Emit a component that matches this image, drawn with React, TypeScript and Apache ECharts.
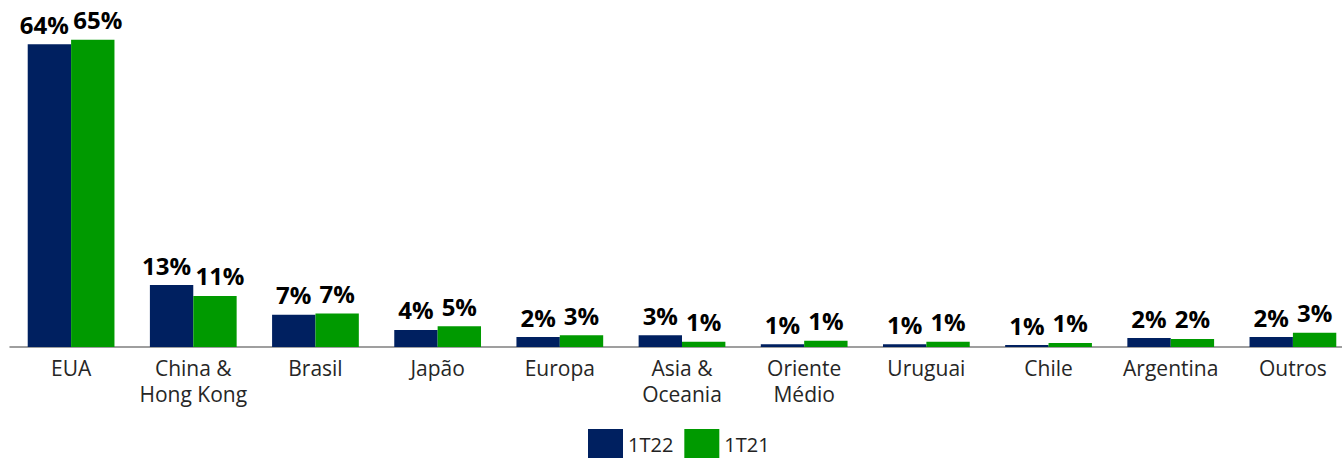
import React, { useEffect, useRef } from "react";
import * as echarts from "echarts";

const categories = ["EUA", "China &\nHong Kong", "Brasil", "Japão", "Europa", "Asia &\nOceania", "Oriente\nMédio", "Uruguai", "Chile", "Argentina", "Outros"];
const values1T22 = [64, 13.1, 6.8, 3.6, 2.1, 2.5, 0.6, 0.6, 0.4, 1.9, 2.1];
const values1T21 = [65, 10.8, 7.1, 4.4, 2.5, 1.1, 1.3, 1.1, 0.85, 1.7, 3.0];
const labels1T22 = ["64%", "13%", "7%", "4%", "2%", "3%", "1%", "1%", "1%", "2%", "2%"];
const labels1T21 = ["65%", "11%", "7%", "5%", "3%", "1%", "1%", "1%", "1%", "2%", "3%"];

const FONT = "'Open Sans', Lato, sans-serif";

export default function App() {
  const ref = useRef<HTMLDivElement>(null);
  useEffect(() => {
    if (!ref.current) return;
    const chart = echarts.init(ref.current, undefined, { renderer: "svg" });
    const mkLabel = (labels: string[]) => ({
      show: true,
      position: "top",
      distance: 8,
      color: "#000",
      fontWeight: "bold",
      fontSize: 24,
      fontFamily: FONT,
      formatter: (p: any) => labels[p.dataIndex],
    });
    const mkData = (vals: number[], labels: string[], shift: number) =>
      vals.map((v, i) => ({
        value: v,
        label: { offset: [labels[i].length > 2 ? shift : 0, 0] },
      }));
    chart.setOption({
      animation: false,
      grid: { left: 10, width: 1344, top: 16, bottom: 111, containLabel: false },
      legend: {
        top: 424,
        left: 583,
        padding: 5,
        itemWidth: 35,
        itemHeight: 30,
        itemGap: 11,
        icon: "rect",
        textStyle: { fontSize: 20, lineHeight: 20, color: "#222", fontFamily: FONT },
        data: ["1T22", "1T21"],
      },
      xAxis: {
        type: "category",
        data: categories,
        axisLine: { lineStyle: { color: "#7f7f7f", width: 1.5 } },
        axisTick: { show: false },
        axisLabel: { fontSize: 21, color: "#262626", fontFamily: FONT, lineHeight: 26, margin: 8, interval: 0 },
      },
      yAxis: { type: "value", min: 0, max: 70, show: false, splitLine: { show: false } },
      series: [
        {
          name: "1T22",
          type: "bar",
          data: mkData(values1T22, labels1T22, -5),
          itemStyle: { color: "#002060" },
          barGap: "0%",
          barCategoryGap: "29%",
          label: mkLabel(labels1T22),
        },
        {
          name: "1T21",
          type: "bar",
          data: mkData(values1T21, labels1T21, 5),
          itemStyle: { color: "#009A00" },
          barGap: "0%",
          barCategoryGap: "29%",
          label: mkLabel(labels1T21),
        },
      ],
    });
    return () => chart.dispose();
  }, []);
  return (
    <div style={{ width: 1342, height: 458, position: "absolute", left: 0, top: 0, overflow: "hidden", background: "#fff" }}>
      <div ref={ref} style={{ width: 1356, height: 458, position: "absolute", left: 0, top: 0 }} />
    </div>
  );
}
